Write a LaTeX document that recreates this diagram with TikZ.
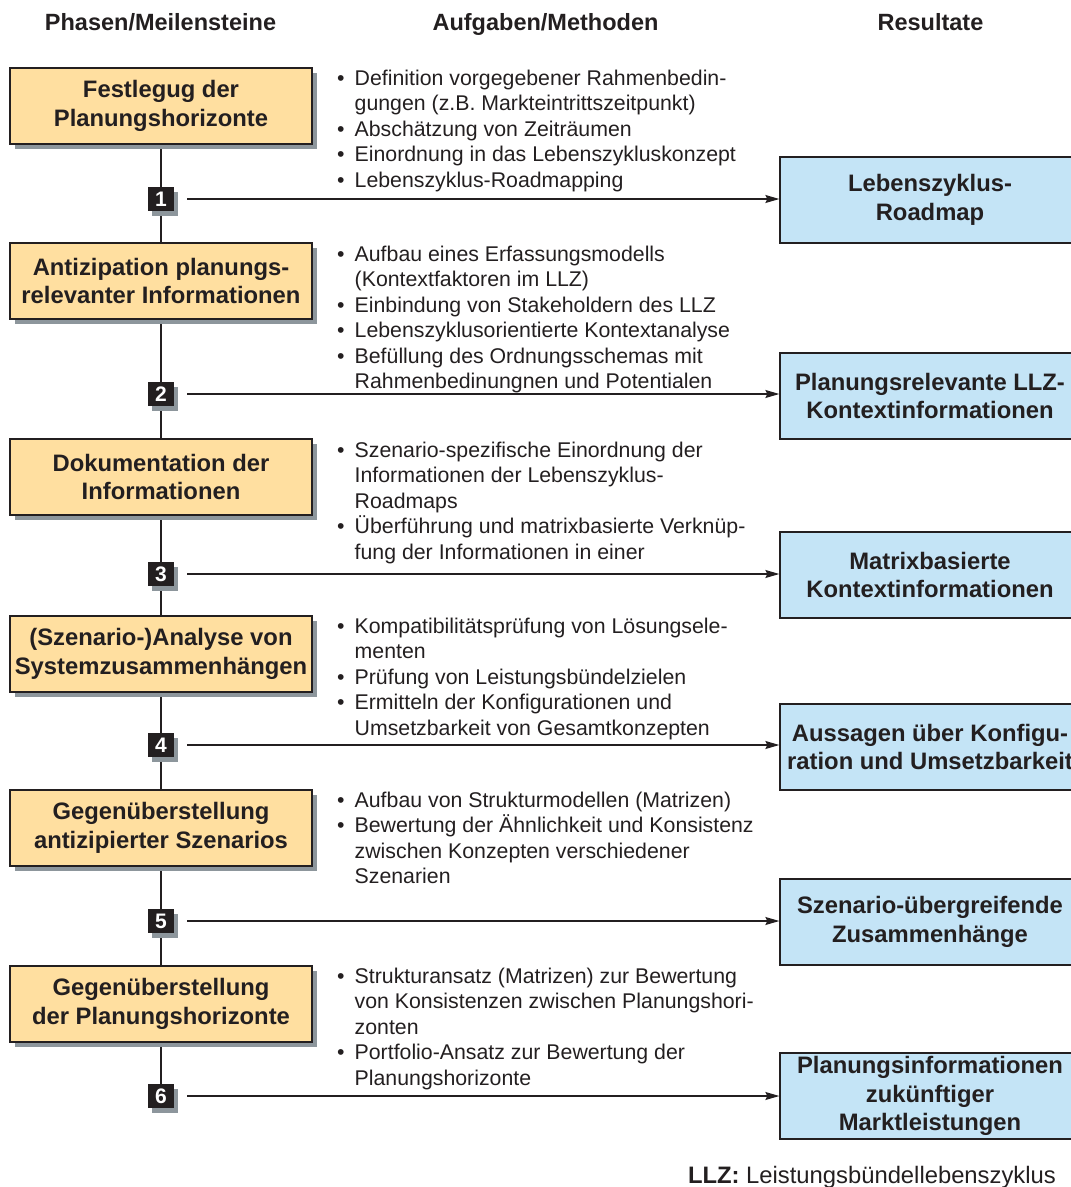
\documentclass[tikz,border=0pt]{standalone}
\usepackage{fontspec}
\setmainfont{Liberation Sans}
\usetikzlibrary{shadows,arrows.meta,backgrounds}

\definecolor{phasefill}{HTML}{FFDFA0}
\definecolor{resfill}{HTML}{C4E4F6}
\definecolor{ink}{HTML}{231F20}
\definecolor{shade}{HTML}{8D969C}

\newcommand\bodyfont{\fontsize{21.3}{25.5}\selectfont}
\newcommand\boxfont{\fontsize{23.8}{28.6}\selectfont\bfseries}
\newcommand\bul{\makebox[17.5pt][l]{\textbullet}}
\newcommand\cont{\hspace*{17.5pt}}

\tikzset{
  phase/.style={draw=ink, fill=phasefill, line width=1.3pt, text=ink,
    minimum width=302pt, minimum height=76pt, inner sep=0pt,
    align=center, font=\boxfont,
    drop shadow={shadow xshift=5pt, shadow yshift=-5pt, fill=shade, opacity=1}},
  result/.style={draw=ink, fill=resfill, line width=1.3pt, text=ink,
    minimum width=300pt, minimum height=86pt, inner sep=0pt,
    align=center, font=\boxfont},
  numbox/.style={fill=ink, text=white, minimum width=26pt, minimum height=24pt,
    inner sep=0pt, font=\fontsize{21}{21}\selectfont\bfseries,
    drop shadow={shadow xshift=4pt, shadow yshift=-5pt, fill=shade, opacity=1}},
  tasks/.style={anchor=base west, inner sep=0pt, text=ink, font=\bodyfont},
  head/.style={anchor=base, inner sep=0pt, text=ink, font=\fontsize{23.5}{24}\selectfont\bfseries},
  conn/.style={draw=ink, line width=1.3pt},
  arr/.style={conn, -{Stealth[length=14pt,width=8pt,inset=2pt]}}
}

\begin{document}
\begin{tikzpicture}[x=1pt,y=-1pt]
\useasboundingbox (0,0) rectangle (1071,1187);
\clip (0,0) rectangle (1071,1187);

% column headings
\node[head] (h1) at (160.5,30.5) {Phasen/Meilensteine};
\node[head] (h2) at (545.5,30.5) {Aufgaben/Methoden};
\node[head] (h3) at (930.5,30.5) {Resultate};

% phases
\node[phase] (p1) at (161,106)   {Festlegug der\\Planungshorizonte};
\node[phase] (p2) at (161,281)   {Antizipation planungs-\\relevanter Informationen};
\node[phase] (p3) at (161,477)   {Dokumentation der\\Informationen};
\node[phase] (p4) at (161,654)   {(Szenario-)Analyse von\\Systemzusammenhängen};
\node[phase] (p5) at (161,828)   {Gegenüberstellung\\antizipierter Szenarios};
\node[phase] (p6) at (161,1004)  {Gegenüberstellung\\der Planungshorizonte};

% milestones
\node[numbox] (n1) at (161,199)  {1};
\node[numbox] (n2) at (161,394)  {2};
\node[numbox] (n3) at (161,574)  {3};
\node[numbox] (n4) at (161,745)  {4};
\node[numbox] (n5) at (161,921)  {5};
\node[numbox] (n6) at (161,1096) {6};

% results
\node[result] (r1) at (930,200)  {Lebenszyklus-\\Roadmap};
\node[result] (r2) at (930,396)  {Planungsrelevante LLZ-\\Kontextinformationen};
\node[result] (r3) at (930,575)  {Matrixbasierte\\Kontextinformationen};
\node[result] (r4) at (930,747)  {Aussagen über Konfigu-\\ration und Umsetzbarkeit};
\node[result] (r5) at (930,922)  {Szenario-übergreifende\\Zusammenhänge};
\node[result] (r6) at (930,1096) {Planungsinformationen\\zukünftiger\\Marktleistungen};

% tasks and methods
\node[tasks] (t1) at (337,85) {\begin{tabular}[t]{@{}l@{}}
\bul Definition vorgegebener Rahmenbedin-\\
\cont gungen (z.B. Markteintrittszeitpunkt)\\
\bul Abschätzung von Zeiträumen\\
\bul Einordnung in das Lebenszykluskonzept\\
\bul Lebenszyklus-Roadmapping
\end{tabular}};
\node[tasks] (t2) at (337,261) {\begin{tabular}[t]{@{}l@{}}
\bul Aufbau eines Erfassungsmodells\\
\cont (Kontextfaktoren im LLZ)\\
\bul Einbindung von Stakeholdern des LLZ\\
\bul Lebenszyklusorientierte Kontextanalyse\\
\bul Befüllung des Ordnungsschemas mit\\
\cont Rahmenbedinungnen und Potentialen
\end{tabular}};
\node[tasks] (t3) at (337,457) {\begin{tabular}[t]{@{}l@{}}
\bul Szenario-spezifische Einordnung der\\
\cont Informationen der Lebenszyklus-\\
\cont Roadmaps\\
\bul Überführung und matrixbasierte Verknüp-\\
\cont fung der Informationen in einer
\end{tabular}};
\node[tasks] (t4) at (337,633) {\begin{tabular}[t]{@{}l@{}}
\bul Kompatibilitätsprüfung von Lösungsele-\\
\cont menten\\
\bul Prüfung von Leistungsbündelzielen\\
\bul Ermitteln der Konfigurationen und\\
\cont Umsetzbarkeit von Gesamtkonzepten
\end{tabular}};
\node[tasks] (t5) at (337,807) {\begin{tabular}[t]{@{}l@{}}
\bul Aufbau von Strukturmodellen (Matrizen)\\
\bul Bewertung der Ähnlichkeit und Konsistenz\\
\cont zwischen Konzepten verschiedener\\
\cont Szenarien
\end{tabular}};
\node[tasks] (t6) at (337,983) {\begin{tabular}[t]{@{}l@{}}
\bul Strukturansatz (Matrizen) zur Bewertung\\
\cont von Konsistenzen zwischen Planungshori-\\
\cont zonten\\
\bul Portfolio-Ansatz zur Bewertung der\\
\cont Planungshorizonte
\end{tabular}};

% legend
\node[tasks, anchor=base east, font=\fontsize{23.8}{26}\selectfont] (leg) at (1056,1183)
  {\textbf{LLZ:} Leistungsbündellebenszyklus};

% connectors
\begin{scope}[on background layer]
\draw[conn] (p1.south) -- (n1.north);
\draw[conn] (n1.south) -- (p2.north);
\draw[conn] (p2.south) -- (n2.north);
\draw[conn] (n2.south) -- (p3.north);
\draw[conn] (p3.south) -- (n3.north);
\draw[conn] (n3.south) -- (p4.north);
\draw[conn] (p4.south) -- (n4.north);
\draw[conn] (n4.south) -- (p5.north);
\draw[conn] (p5.south) -- (n5.north);
\draw[conn] (n5.south) -- (p6.north);
\draw[conn] (p6.south) -- (n6.north);
\end{scope}
\foreach \i in {1,...,6}{
  \draw[arr] ([xshift=13pt]n\i.east) -- (n\i.east -| r\i.west);
}
\end{tikzpicture}
\end{document}
